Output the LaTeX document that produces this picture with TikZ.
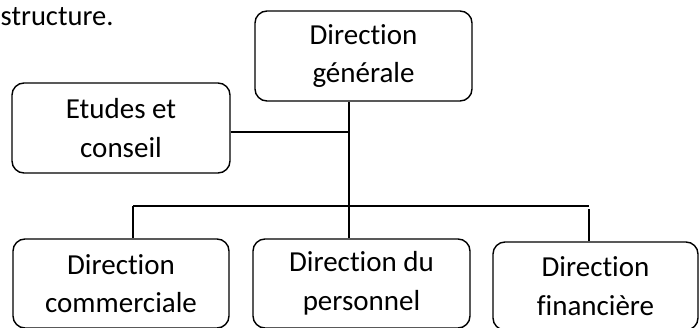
\documentclass[tikz,border=0pt]{standalone}
\usepackage{fontspec}
\setmainfont{Carlito}[Ligatures={NoCommon}]
\usetikzlibrary{calc}
\tikzset{
  unit/.style={box/.style={draw, line width=1.4pt, rounded corners=12pt, inner sep=0pt,
    align=center, font=\fontsize{29}{38.5}\selectfont}},
  link/.style={line width=1.3pt},
}
\begin{document}
\begin{tikzpicture}[x=1pt, y=-1pt, unit]
  \useasboundingbox (0,0) rectangle (699,327);
  \clip (0,0) rectangle (699,327);

  % caption fragment
  \node[anchor=base west, inner sep=0pt, font=\fontsize{28.5}{34}\selectfont] (cap) at (0.5,25) {structure.};

  % boxes
  \node[box, minimum width=217pt, minimum height=90pt] (gen) at (363.5,56) {Direction\\générale};
  \node[box, minimum width=218pt, minimum height=90pt] (etu) at (121,128) {Etudes et\\conseil};
  \node[box, minimum width=216pt, minimum height=89pt] (com) at (121,283.5) {Direction\\commerciale};
  \node[box, minimum width=217pt, minimum height=89pt] (per) at (361.5,283.5) {Direction du\\personnel};
  \node[box, minimum width=205pt, minimum height=88pt] (fin) at (595.5,286) {Direction\\financière};

  % junction points
  \coordinate (k)  at (349,132);
  \coordinate (j)  at (349,206);
  \coordinate (jl) at (133,206);
  \coordinate (jr) at (589,206);
  \coordinate (jr2) at (589,209);

  % connectors
  \draw[link] (k |- gen.south) -- (j);
  \draw[link] (etu.east |- k) -- (k);
  \draw[link] (jl) -- (jr);
  \draw[link] (jl) -- (jl |- com.north);
  \draw[link] (j) -- (j |- per.north);
  \draw[link] (jr2) -- (jr2 |- fin.north);
\end{tikzpicture}
\end{document}
